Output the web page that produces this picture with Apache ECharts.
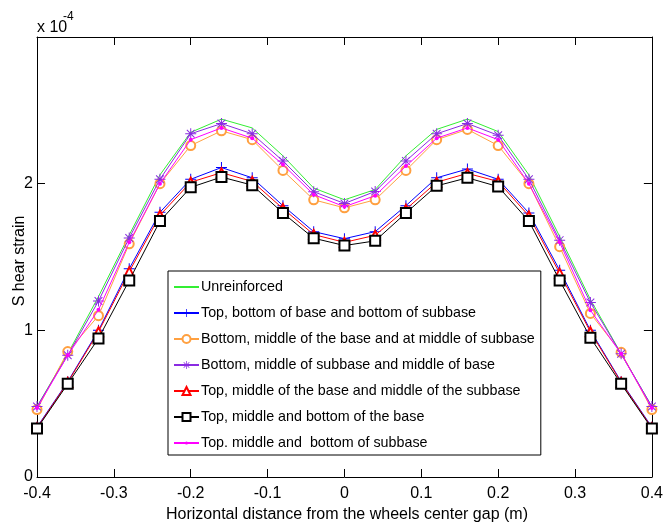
<!DOCTYPE html>
<html>
<head>
<meta charset="utf-8">
<script src="https://cdn.jsdelivr.net/npm/echarts@6/dist/echarts.min.js"></script>
<style>html,body{margin:0;padding:0;background:#fff;}#c{width:666px;height:525px;}</style>
</head>
<body>
<div id="c"></div>
<script>
// x positions (m)
const xValues = [-0.4,-0.36,-0.32,-0.28,-0.24,-0.2,-0.16,-0.12,-0.08,-0.04,0,0.04,0.08,0.12,0.16,0.2,0.24,0.28,0.32,0.36,0.4];
// shear strain values in units of 1e-4
const unreinforced = [0.48,0.84,1.23,1.65,2.06,2.35,2.44,2.38,2.19,1.97,1.89,1.96,2.19,2.37,2.44,2.355,2.06,1.64,1.21,0.84,0.48];
const topBottomBaseBottomSubbase = [0.34,0.65,1.00,1.42,1.805,2.03,2.11,2.04,1.85,1.673,1.625,1.673,1.85,2.04,2.10,2.03,1.80,1.41,1.00,0.65,0.34];
const bottomMiddleBaseMiddleSubbase = [0.46,0.855,1.10,1.59,2.00,2.26,2.36,2.30,2.09,1.89,1.835,1.89,2.09,2.30,2.37,2.26,2.00,1.57,1.115,0.85,0.46];
const bottomMiddleSubbaseMiddleBase = [0.48,0.83,1.20,1.63,2.03,2.34,2.41,2.34,2.155,1.945,1.865,1.947,2.155,2.34,2.41,2.33,2.03,1.615,1.19,0.84,0.48];
const topMiddleBaseMiddleSubbase = [0.335,0.645,0.99,1.40,1.785,2.01,2.075,2.015,1.83,1.653,1.60,1.648,1.825,2.01,2.07,2.015,1.78,1.39,0.99,0.645,0.335];
const topMiddleBottomBase = [0.33,0.635,0.945,1.34,1.745,1.975,2.045,1.99,1.80,1.628,1.578,1.61,1.80,1.985,2.04,1.98,1.745,1.34,0.95,0.635,0.33];
const topMiddleBottomSubbase = [0.47,0.83,1.14,1.60,2.00,2.30,2.38,2.31,2.13,1.925,1.843,1.918,2.12,2.31,2.38,2.30,2.00,1.60,1.137,0.84,0.47];

const seriesNames = [
  'Unreinforced',
  'Top, bottom of base and bottom of subbase',
  'Bottom, middle of the base and at middle of subbase',
  'Bottom, middle of subbase and middle of base',
  'Top, middle of the base and middle of the subbase',
  'Top, middle and bottom of the base',
  'Top. middle and  bottom of subbase'
];
const xTicks = [-0.4,-0.3,-0.2,-0.1,0,0.1,0.2,0.3,0.4];
const yTicks = [0,1,2];

const FONT = '"Liberation Sans", Arial, sans-serif';
const noMarkPath = 'path://M-1,-1 M1,1';
const plusPath = 'path://M-0.09,-1 L0.09,-1 L0.09,-0.09 L1,-0.09 L1,0.09 L0.09,0.09 L0.09,1 L-0.09,1 L-0.09,0.09 L-1,0.09 L-1,-0.09 L-0.09,-0.09 Z';
const starPath = 'path://M-0.09,-1 L0.09,-1 L0.09,1 L-0.09,1 Z M-1,-0.09 L1,-0.09 L1,0.09 L-1,0.09 Z M-0.77,-0.64 L-0.64,-0.77 L0.77,0.64 L0.64,0.77 Z M0.64,-0.77 L0.77,-0.64 L-0.64,0.77 L-0.77,0.64 Z';
const dotPath = 'path://M-1,-1 M1,1 M0.4,0 A0.4,0.4 0 1 1 -0.4,0 A0.4,0.4 0 1 1 0.4,0 Z';

function pairs(arr){ return xValues.map((x,i)=>[x, arr[i]]); }

const defs = [
  {data: unreinforced, color:'#33ee33', symbol: noMarkPath, size:10, show:false, bw:0},
  {data: topBottomBaseBottomSubbase, color:'#0000ff', symbol: plusPath, size:11, show:true, bw:0},
  {data: bottomMiddleBaseMiddleSubbase, color:'#ffa040', symbol:'emptyCircle', size:9, show:true, bw:1},
  {data: bottomMiddleSubbaseMiddleBase, color:'#8a2be2', symbol: starPath, size:11, show:true, bw:0},
  {data: topMiddleBaseMiddleSubbase, color:'#ff0000', symbol:'emptyTriangle', size:9, show:true, bw:1},
  {data: topMiddleBottomBase, color:'#000000', symbol:'emptyRect', size:10, show:true, bw:1},
  {data: topMiddleBottomSubbase, color:'#ff00ff', symbol: dotPath, size:10, show:true, bw:0}
];

const series = defs.map((d,i)=>({
  name: seriesNames[i],
  type:'line',
  data: pairs(d.data),
  symbol: d.symbol,
  symbolSize: d.size,
  showSymbol: d.show,
  color: d.color,
  lineStyle:{color:d.color, width:1},
  itemStyle:{color:d.color, borderColor:d.color, borderWidth:d.bw},
  animation:false,
  z: 2 + i
}));

const chart = echarts.init(document.getElementById('c'), null, {renderer:'canvas'});
function axisCommon(){
  return {
    axisLine:{show:true, onZero:false, lineStyle:{color:'#000', width:1}},
    axisTick:{show:true, inside:true, length:8, lineStyle:{color:'#000'}},
    splitLine:{show:false}
  };
}
chart.setOption({
  animation:false,
  backgroundColor:'#fff',
  grid:{left:37, right:9, top:37, bottom:48, containLabel:false},
  xAxis:[
    Object.assign({type:'value', min:-0.4, max:0.4, interval:0.1, position:'bottom',
      axisLabel:{color:'#000', fontFamily:FONT, fontSize:16, margin:9,
        formatter: v => { const r = Math.round(v*10)/10; return xTicks.includes(r) ? String(r) : ''; }}}, axisCommon()),
    Object.assign({type:'value', min:-0.4, max:0.4, interval:0.1, position:'top', axisLabel:{show:false}}, axisCommon())
  ],
  yAxis:[
    Object.assign({type:'value', min:0, max:3, interval:1, position:'left',
      axisLabel:{color:'#000', fontFamily:FONT, fontSize:16, margin:4,
        formatter: v => yTicks.includes(v) ? String(v) : ''}}, axisCommon()),
    Object.assign({type:'value', min:0, max:3, interval:1, position:'right', axisLabel:{show:false}}, axisCommon())
  ],
  legend:{
    orient:'vertical', left:168, top:271,
    backgroundColor:'#fff', borderColor:'#000', borderWidth:1,
    padding:[9,6,5,5], itemGap:12, itemWidth:25, itemHeight:10,
    textStyle:{color:'#000', fontFamily:FONT, fontSize:14.3, lineHeight:14, padding:[0,0,0,-3]},
    data: seriesNames
  },
  series: series,
  graphic:[
    {type:'text', left:37, top:20, style:{text:'x 10', font:'16px '+FONT, fill:'#000'}},
    {type:'text', left:63, top:11, style:{text:'-4', font:'12px '+FONT, fill:'#000'}},
    {type:'text', x:347, y:515, style:{text:'Horizontal distance from the wheels center gap (m)', font:'16px '+FONT, fill:'#000', align:'center', verticalAlign:'middle'}},
    {type:'text', x:20, y:261, rotation:Math.PI/2, style:{text:'S hear strain', font:'16px '+FONT, fill:'#000', align:'center', verticalAlign:'middle'}}
  ]
});
</script>
</body>
</html>
